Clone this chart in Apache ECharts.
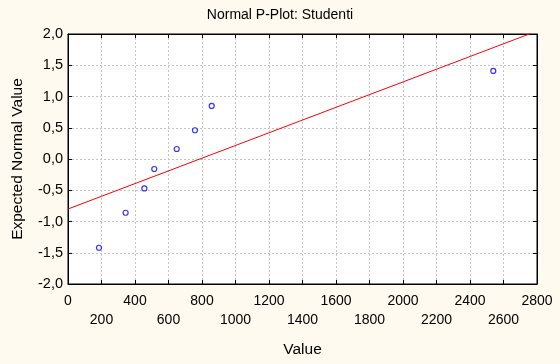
<!DOCTYPE html>
<html><head><meta charset="utf-8">
<script src="https://cdn.jsdelivr.net/npm/echarts@6/dist/echarts.min.js"></script>
<style>html,body{margin:0;padding:0;background:#FFFAEF;}#c{width:560px;height:364px;}</style>
</head><body><div id="c"></div>
<script>
var values = [185, 344, 456, 515, 649, 758, 858, 2539];
var expected = [-1.42, -0.86, -0.47, -0.16, 0.16, 0.46, 0.85, 1.41];
var fitLineX = [0, 2754];
var fitLineY = [-0.80, 2.0];
var xTicks = [0, 200, 400, 600, 800, 1000, 1200, 1400, 1600, 1800, 2000, 2200, 2400, 2600, 2800];
var yTicks = [-2.0, -1.5, -1.0, -0.5, 0.0, 0.5, 1.0, 1.5, 2.0];

var pts = values.map(function(v, i){ return [v, expected[i]]; });
var line = fitLineX.map(function(v, i){ return [v, fitLineY[i]]; });
var FONT = 'Liberation Sans';
var chart = echarts.init(document.getElementById('c'), null, {renderer:'canvas'});
var xMin = xTicks[0], xMax = xTicks[xTicks.length-1];
var yMin = yTicks[0], yMax = yTicks[yTicks.length-1];
var axLine = {show: true, onZero: false, lineStyle: {color: '#000'}};
var tick = {show: true, inside: true, length: 4, lineStyle: {color: '#000'}};
var split = {show: true, lineStyle: {color: '#c4c4c4', type: [2, 2]}};
chart.setOption({
  backgroundColor: '#FFFAEF',
  animation: false,
  title: {text: 'Normal P-Plot: Studenti', left: 'center', top: 3,
    textStyle: {fontFamily: FONT, fontSize: 14, fontWeight: 'normal', color: '#000'}},
  grid: {left: 68, right: 23, top: 34, bottom: 80, show: true, backgroundColor: '#fff', borderColor: '#000', borderWidth: 1},
  xAxis: [{
    type: 'value', min: xMin, max: xMax, interval: 200,
    name: 'Value', nameLocation: 'middle', nameGap: 58,
    nameTextStyle: {fontFamily: FONT, fontSize: 15.5, color: '#000'},
    axisLine: axLine, axisTick: tick, splitLine: split,
    axisLabel: {fontFamily: FONT, fontSize: 14, color: '#000', margin: 8, lineHeight: 19,
      formatter: function(v){ var i = Math.round(v/200); return (i % 2 ? '\n' : '') + v; }}
  }, {
    type: 'value', position: 'top', min: xMin, max: xMax, interval: 200,
    axisLine: axLine, axisTick: tick,
    axisLabel: {show: false}, splitLine: {show: false}
  }],
  yAxis: [{
    type: 'value', min: yMin, max: yMax, interval: 0.5,
    name: 'Expected Normal Value', nameLocation: 'middle', nameGap: 42,
    nameTextStyle: {fontFamily: FONT, fontSize: 15.5, color: '#000'},
    axisLine: axLine, axisTick: tick, splitLine: split,
    axisLabel: {fontFamily: FONT, fontSize: 14.5, color: '#000', margin: 5,
      formatter: function(v){ return v.toFixed(1).replace('.', ','); }}
  }, {
    type: 'value', position: 'right', min: yMin, max: yMax, interval: 0.5,
    axisLine: axLine, axisTick: tick,
    axisLabel: {show: false}, splitLine: {show: false}
  }],
  series: [{
    type: 'line', data: line, showSymbol: false, symbol: 'none',
    lineStyle: {color: '#FF0000', width: 1}, silent: true
  }, {
    type: 'scatter', data: pts, symbol: 'circle', symbolSize: 5,
    itemStyle: {color: '#fff', borderColor: '#0000FF', borderWidth: 1.2}
  }]
});
</script></body></html>
